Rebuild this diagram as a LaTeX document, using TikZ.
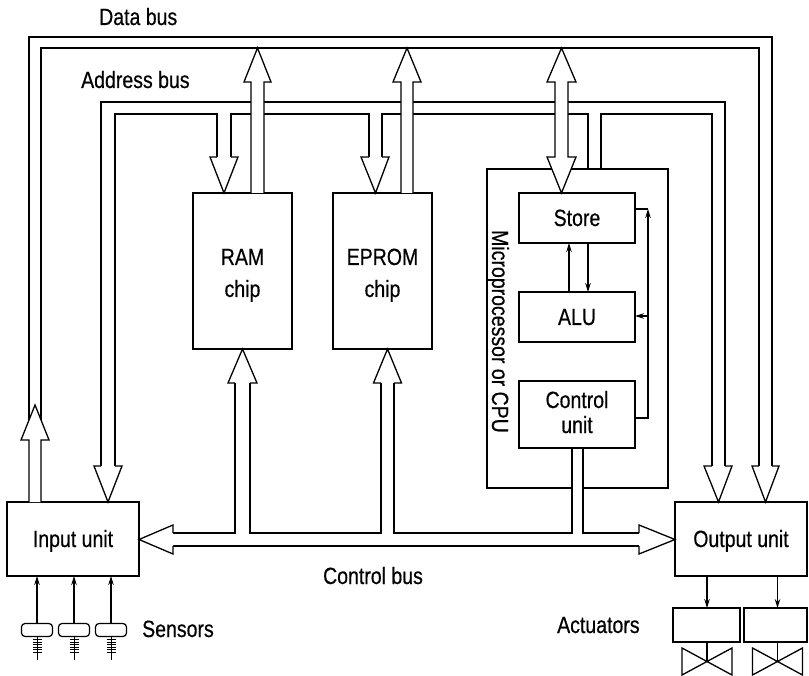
\documentclass[tikz,border=0pt]{standalone}
\usepackage{fontspec}
\setmainfont{Liberation Sans}[FakeStretch=0.83,FakeBold=0.5]
\usetikzlibrary{arrows.meta}
\begin{document}
\begin{tikzpicture}[x=1pt,y=-1pt,
  ln/.style={line width=1.3pt, line join=miter},
  box/.style={draw, line width=1.3pt, inner sep=0pt, outer sep=0pt},
  lbl/.style={font=\fontsize{23.5}{27}\selectfont, inner sep=0pt, anchor=base},
  blk/.style={ln, fill=white},
  sig/.style={line width=1.2pt, -{Stealth[length=9pt,width=5.5pt]}},
  sensorbody/.style={draw, line width=1.2pt, rounded corners=3.5pt, minimum width=31pt, minimum height=13pt, inner sep=0pt},
  valve/.style={line width=1.3pt, line join=miter}]
\useasboundingbox (0,0) rectangle (809,676);
\fill[white] (0,0) rectangle (809,676);

% ---------- boxes ----------
\node[box, minimum width=99pt, minimum height=156pt] (ram) at (242.5,271) {};
\node[box, minimum width=99pt, minimum height=156pt] (eprom) at (382.5,271) {};
\node[box, minimum width=181pt, minimum height=319pt] (cpu) at (577.5,328.5) {};
\node[box, minimum width=116pt, minimum height=50pt] (store) at (577,218) {};
\node[box, minimum width=116pt, minimum height=50pt] (alu) at (577,317) {};
\node[box, minimum width=116pt, minimum height=67pt] (ctrl) at (577,414.5) {};
\node[box, minimum width=132pt, minimum height=74pt] (inp) at (73,539) {};
\node[box, minimum width=132pt, minimum height=74pt] (outp) at (741,539) {};
\node[box, minimum width=67pt, minimum height=34pt] (act1) at (706.5,625) {};
\node[box, minimum width=63pt, minimum height=34pt] (act2) at (775.5,625) {};

% ---------- data bus lines ----------
\draw[ln] (29,440) -- (29,37) -- (772,37) -- (772,466);
\draw[ln] (41,440) -- (41,48) -- (759,48) -- (759,466);

% ---------- address bus lines ----------
\draw[ln] (101,466) -- (101,102) -- (725,102) -- (725,466);
\draw[ln] (115,466) -- (115,114) -- (217,114) -- (217,157);
\draw[ln] (231,157) -- (231,114) -- (369,114) -- (369,157);
\draw[ln] (382,157) -- (382,114) -- (588,114) -- (588,169);
\draw[ln] (601,169) -- (601,114) -- (712,114) -- (712,466);

% address arrow heads
\filldraw[blk] (217,157) -- (210,157) -- (224,193) -- (238,157) -- (231,157);
\filldraw[blk] (369,157) -- (361,157) -- (375.5,193) -- (389,157) -- (382,157);
\filldraw[blk] (101,466) -- (94,466) -- (108,502) -- (122,466) -- (115,466);
\filldraw[blk] (712,466) -- (704,466) -- (718.5,502) -- (732,466) -- (725,466);

% data arrows
\filldraw[blk] (251,193) -- (251,82) -- (244,82) -- (257.5,48) -- (271,82) -- (264,82) -- (264,193);
\filldraw[blk] (401,193) -- (401,82) -- (393,82) -- (407,48) -- (421,82) -- (413,82) -- (413,193);
\filldraw[blk] (555,157) -- (555,82) -- (547,82) -- (561.5,48) -- (576,82) -- (568,82) -- (568,157)
   -- (576,157) -- (561.5,193) -- (547,157) -- cycle;
\filldraw[blk] (29,502) -- (29,440) -- (21,440) -- (35,405) -- (49,440) -- (41,440) -- (41,502);
\filldraw[blk] (759,466) -- (752,466) -- (765.5,502) -- (779,466) -- (772,466);

% ---------- control bus ----------
\fill[white] (572.7,470) rectangle (582.3,500);
\draw[ln] (173,533) -- (235,533) -- (235,383);
\draw[ln] (250,383) -- (250,533) -- (381,533) -- (381,383);
\draw[ln] (394,383) -- (394,533) -- (572,533) -- (572,448);
\draw[ln] (583,448) -- (583,533) -- (639,533);
\draw[ln] (173,546) -- (639,546);
\filldraw[blk] (235,383) -- (228,383) -- (242.5,349) -- (257,383) -- (250,383);
\filldraw[blk] (381,383) -- (373.5,383) -- (387.5,349) -- (401.5,383) -- (394,383);
\filldraw[blk] (173,533) -- (173,525) -- (139,539.5) -- (173,554) -- (173,546);
\filldraw[blk] (639,533) -- (639,525) -- (675,539.5) -- (639,554) -- (639,546);

% ---------- CPU internal signals ----------
\draw[sig] (569,292) -- (569,243);
\draw[sig] (588,243) -- (588,292);
\coordinate (fb) at (648,209);
\draw[sig] (635,418) -- (648,418) -- (fb);
\draw[ln] (635,209) -- (fb);
\draw[sig] (648,316) -- (635,316);

% ---------- sensors ----------
\foreach \i/\cx in {1/37, 2/74, 3/111} {
  \node[sensorbody] (s\i) at (\cx,630) {};
  \draw[sig] (s\i.north) -- (\cx,576);
  \draw[line width=1pt] (s\i.south) -- (\cx,660);
  \foreach \ty in {639.5,642,644.5,647,649.5,652}
    \draw[line width=0.8pt] (\cx-4.5,\ty) -- (\cx+4.5,\ty);
}

% ---------- actuators ----------
\draw[sig] (707,576) -- (act1.north -| 707,0);
\draw[sig] (777.5,576) -- (act2.north -| 777.5,0);
\foreach \vx in {707, 777.5} {
  \draw[ln] (\vx,642) -- (\vx,661.5);
  \draw[valve] (\vx-25,648) -- (\vx+25,675) -- (\vx+25,648) -- (\vx-25,675) -- cycle;
}

% ---------- labels ----------
\node[lbl, anchor=base west] (tdata) at (99,25) {Data bus};
\node[lbl, anchor=base west] (taddr) at (81,88) {Address bus};
\node[lbl] (tram1) at (242.5,265) {RAM};
\node[lbl] (tram2) at (242.5,297) {chip};
\node[lbl] (tep1) at (382.5,265) {EPROM};
\node[lbl] (tep2) at (382.5,297) {chip};
\node[lbl] (tstore) at (577,226) {Store};
\node[lbl] (talu) at (577,325) {ALU};
\node[lbl] (tc1) at (577,408) {Control};
\node[lbl] (tc2) at (577,433) {unit};
\node[lbl, rotate=-90] (tcpu) at (492,331.5) {Microprocessor or CPU};
\node[lbl] (tin) at (73,547) {Input unit};
\node[lbl] (tout) at (741,547) {Output unit};
\node[lbl] (tctl) at (373,584) {Control bus};
\node[lbl, anchor=base west] (tsens) at (142,637) {Sensors};
\node[lbl, anchor=base west] (tact) at (557,633) {Actuators};
\end{tikzpicture}
\end{document}
